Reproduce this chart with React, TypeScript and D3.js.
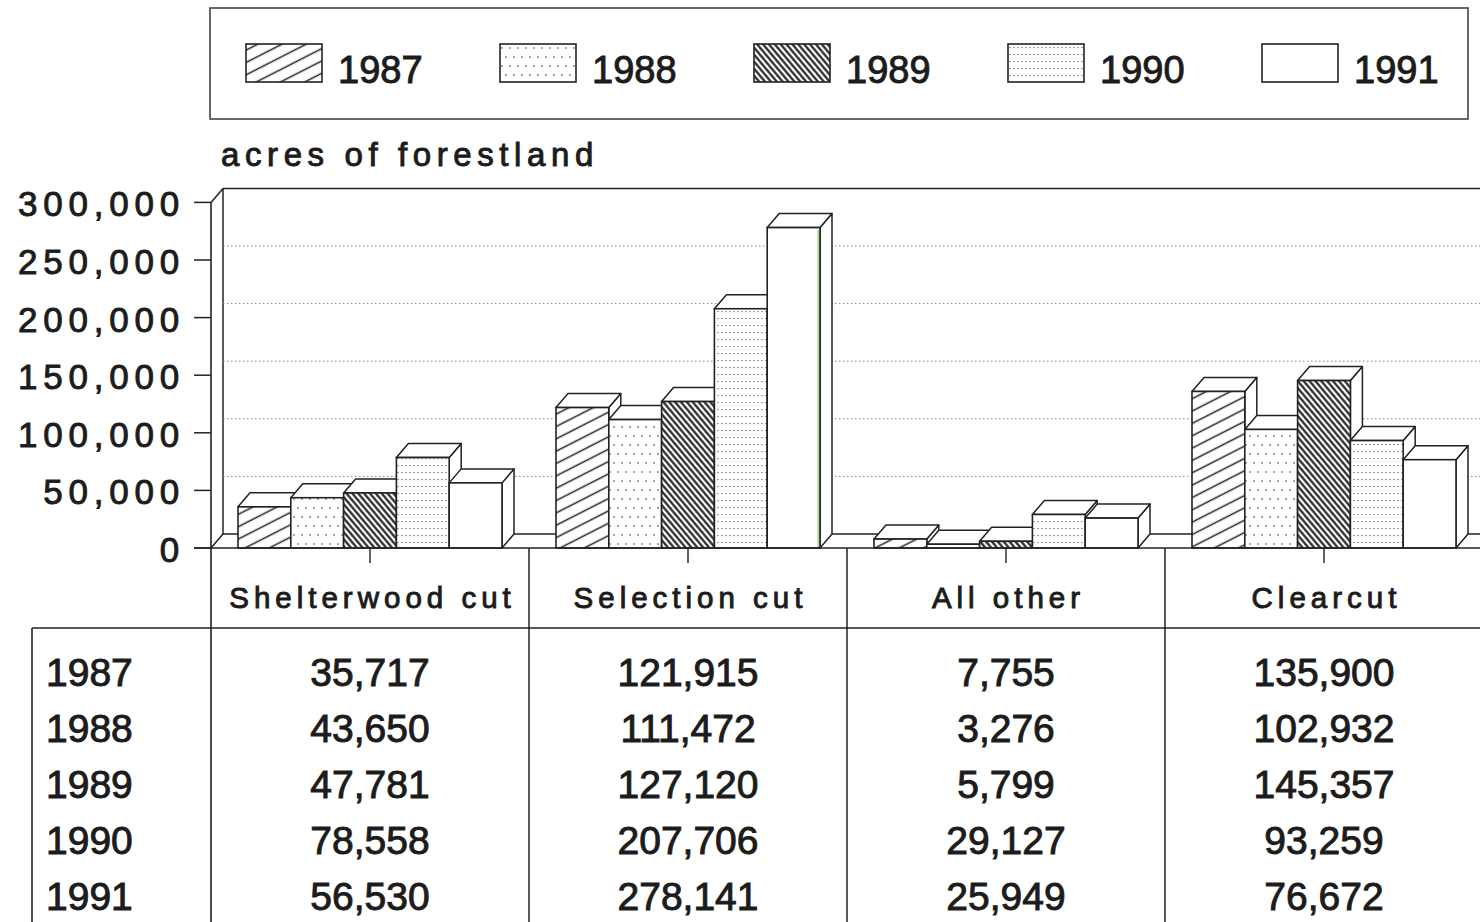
import * as d3 from 'd3';

// years shown in the legend and as table rows
const YEARS = ['1987', '1988', '1989', '1990', '1991'];
const CATEGORIES = ['Shelterwood cut', 'Selection cut', 'All other', 'Clearcut'];

// acres of forestland per category, one array per year
const V1987 = [35717, 121915, 7755, 135900];
const V1988 = [43650, 111472, 3276, 102932];
const V1989 = [47781, 127120, 5799, 145357];
const V1990 = [78558, 207706, 29127, 93259];
const V1991 = [56530, 278141, 25949, 76672];
const SERIES = [V1987, V1988, V1989, V1990, V1991];

const Y_TICKS = [0, 50000, 100000, 150000, 200000, 250000, 300000];
const PATTERNS = ['p1987', 'p1988', 'p1989', 'p1990', 'none'];

const W = 1480;
const H = 922;
const AXIS_X = 211;
const BASE_Y = 548;
const DX = 12;
const DY = -14;
const BAND = 318;
const INK = '#222';
const FONT = '"Liberation Sans", Arial, sans-serif';

const fmt = d3.format(',');

export default function App() {
  const y = d3.scaleLinear().domain([0, 300000]).range([BASE_Y, 202.4]);
  const x = d3.scaleBand<string>().domain(CATEGORIES).range([AXIS_X, AXIS_X + BAND * 4]);
  const inner = d3.scaleBand<string>().domain(YEARS).range([27, 291]);
  const bw = inner.bandwidth();
  const pts = (p: number[][]) => p.map((d) => d.join(',')).join(' ');

  const fillOf = (i: number) => (PATTERNS[i] === 'none' ? '#fff' : `url(#${PATTERNS[i]})`);
  const textStyle = { fontFamily: FONT, fill: '#1c1c1c', stroke: '#1c1c1c', strokeWidth: 0.95 };

  return (
    <svg width={W} height={H} style={{ position: 'absolute', left: 0, top: 0, background: '#fff' }}>
      <defs>
        <pattern id="p1987" patternUnits="userSpaceOnUse" width={10} height={11} patternTransform="rotate(-27)">
          <rect width={10} height={11} fill="#fff" />
          <line x1={0} x2={10} y1={5.5} y2={5.5} stroke={INK} strokeWidth={1.5} />
        </pattern>
        <pattern id="p1988" patternUnits="userSpaceOnUse" width={8} height={18}>
          <rect width={8} height={18} fill="#fff" />
          <circle cx={2} cy={4} r={0.9} fill="#777" />
          <circle cx={6} cy={13} r={0.9} fill="#777" />
        </pattern>
        <pattern id="p1989" patternUnits="userSpaceOnUse" width={8} height={4.5} patternTransform="rotate(50)">
          <rect width={8} height={4.5} fill="#fff" />
          <line x1={0} x2={8} y1={2.25} y2={2.25} stroke={INK} strokeWidth={2.2} />
        </pattern>
        <pattern id="p1990" patternUnits="userSpaceOnUse" width={4} height={7}>
          <rect width={4} height={7} fill="#fff" />
          <rect x={1.2} y={3} width={1.6} height={1.1} fill="#888" />
        </pattern>
      </defs>

      {/* legend */}
      <rect x={210} y={8} width={1258} height={111} fill="#fff" stroke="#444" strokeWidth={1.6} />
      {YEARS.map((yr, i) => (
        <g key={yr} transform={`translate(${246 + i * 254},44)`}>
          <rect width={76} height={38} fill={fillOf(i)} stroke={INK} strokeWidth={1.6} />
          <text x={92} y={39} fontSize={38} style={textStyle}>
            {yr}
          </text>
        </g>
      ))}

      {/* title */}
      <text x={221} y={166} fontSize={33} letterSpacing={5.6} style={textStyle}>
        acres of forestland
      </text>

      {/* walls and grid */}
      <line x1={AXIS_X + DX} x2={W} y1={y(300000) + DY} y2={y(300000) + DY} stroke={INK} strokeWidth={1.5} />
      <line x1={AXIS_X + DX} x2={AXIS_X + DX} y1={y(300000) + DY} y2={BASE_Y + DY} stroke={INK} strokeWidth={1.5} />
      <line x1={AXIS_X} x2={AXIS_X + DX} y1={y(300000)} y2={y(300000) + DY} stroke={INK} strokeWidth={1.5} />
      <line x1={AXIS_X} x2={AXIS_X + DX} y1={BASE_Y} y2={BASE_Y + DY} stroke={INK} strokeWidth={1.5} />
      <line x1={AXIS_X + DX} x2={W} y1={BASE_Y + DY} y2={BASE_Y + DY} stroke={INK} strokeWidth={1.5} />
      {Y_TICKS.filter((t) => t > 0 && t < 300000).map((t) => (
        <line
          key={t}
          x1={AXIS_X + DX}
          x2={W}
          y1={y(t) + DY}
          y2={y(t) + DY}
          stroke="#888"
          strokeWidth={1}
          strokeDasharray="1.5 2.5"
        />
      ))}

      {/* bars */}
      {CATEGORIES.map((cat, ci) => (
        <g key={cat}>
          {YEARS.map((yr, yi) => {
            const v = SERIES[yi][ci];
            const x0 = (x(cat) as number) + (inner(yr) as number);
            const yv = y(v);
            return (
              <g key={yr}>
                <polygon
                  points={pts([[x0 + bw, yv], [x0 + bw + DX, yv + DY], [x0 + bw + DX, BASE_Y + DY], [x0 + bw, BASE_Y]])}
                  fill="#fff"
                  stroke={INK}
                  strokeWidth={1.5}
                  strokeLinejoin="round"
                />
                <polygon
                  points={pts([[x0, yv], [x0 + DX, yv + DY], [x0 + bw + DX, yv + DY], [x0 + bw, yv]])}
                  fill="#fff"
                  stroke={INK}
                  strokeWidth={1.5}
                  strokeLinejoin="round"
                />
                <rect x={x0} y={yv} width={bw} height={BASE_Y - yv} fill={fillOf(yi)} stroke={INK} strokeWidth={1.6} />
                {ci === 1 && yi === 4 && (
                  <line x1={x0 + bw - 1.8} x2={x0 + bw - 1.8} y1={yv + 2} y2={BASE_Y - 1} stroke="#8fd06a" strokeWidth={1.2} />
                )}
              </g>
            );
          })}
        </g>
      ))}

      {/* y axis */}
      <line x1={AXIS_X} x2={AXIS_X} y1={y(300000)} y2={H} stroke={INK} strokeWidth={1.6} />
      {Y_TICKS.map((t) => (
        <g key={t}>
          <line x1={194} x2={AXIS_X} y1={y(t)} y2={y(t)} stroke={INK} strokeWidth={1.5} />
          <text x={185} y={y(t) + 14} fontSize={35} letterSpacing={5.8} textAnchor="end" style={textStyle}>
            {fmt(t)}
          </text>
        </g>
      ))}

      {/* x axis and table */}
      <line x1={194} x2={W} y1={BASE_Y} y2={BASE_Y} stroke={INK} strokeWidth={1.6} />
      {CATEGORIES.map((cat) => {
        const cx = (x(cat) as number) + x.bandwidth() / 2;
        return (
          <g key={cat}>
            <line x1={cx} x2={cx} y1={BASE_Y} y2={BASE_Y + 15} stroke={INK} strokeWidth={1.4} />
            <line
              x1={(x(cat) as number) + BAND}
              x2={(x(cat) as number) + BAND}
              y1={BASE_Y}
              y2={H}
              stroke={INK}
              strokeWidth={1.5}
            />
            <text x={cx + 2.5} y={608} fontSize={29.5} letterSpacing={5} textAnchor="middle" style={textStyle}>
              {cat}
            </text>
          </g>
        );
      })}
      <line x1={32} x2={W} y1={628} y2={628} stroke={INK} strokeWidth={1.6} />
      <line x1={32} x2={32} y1={628} y2={H} stroke={INK} strokeWidth={1.6} />
      {YEARS.map((yr, yi) => (
        <g key={yr}>
          <text x={46} y={686 + yi * 56} fontSize={39} style={textStyle}>
            {yr}
          </text>
          {CATEGORIES.map((cat, ci) => (
            <text
              key={cat}
              x={(x(cat) as number) + x.bandwidth() / 2}
              y={686 + yi * 56}
              fontSize={39}
              textAnchor="middle"
              style={textStyle}
            >
              {fmt(SERIES[yi][ci])}
            </text>
          ))}
        </g>
      ))}
    </svg>
  );
}
